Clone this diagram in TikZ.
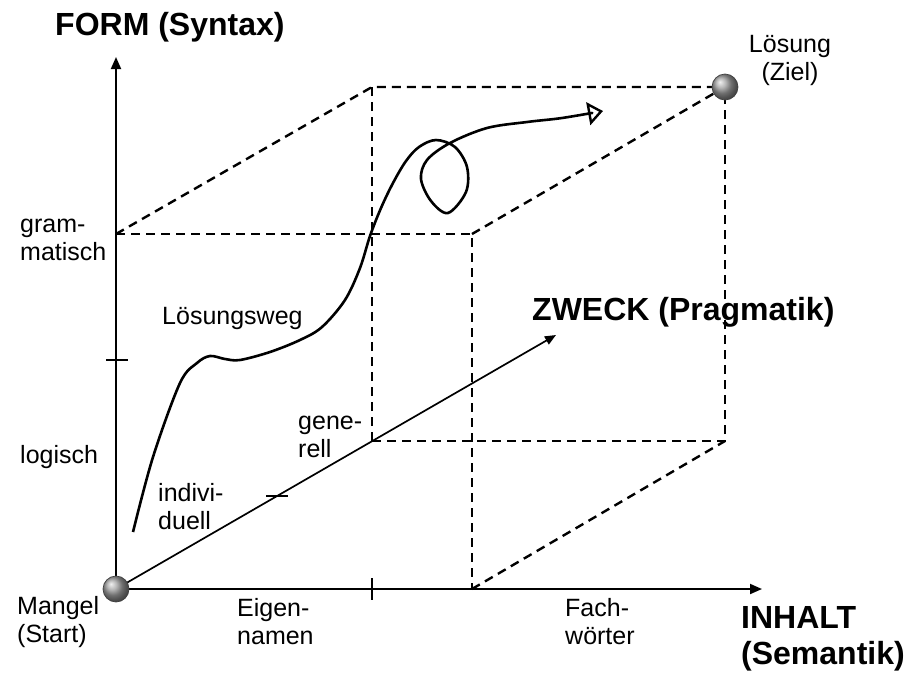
\documentclass[tikz,border=0pt]{standalone}
\usepackage{fontspec}
\setmainfont{Liberation Sans}
\usetikzlibrary{arrows.meta,shadings}
\begin{document}
\begin{tikzpicture}[x=1pt,y=-1pt,
  axis/.style={line width=1.9pt,-{Triangle[length=12pt,width=10pt]}},
  hidden/.style={line width=2.4pt,dash pattern=on 9pt off 6pt},
  tickmark/.style={line width=1.9pt},
  path/.style={line width=2.6pt,line join=round,-{Triangle[open,length=15pt,width=23pt,line width=2.4pt]}},
  ballnode/.style={circle,minimum size=26pt,inner sep=0pt,shading=ball,ball color=gray!75,draw=black!75,line width=0.7pt},
  lbl/.style={inner sep=0pt,font=\fontsize{25}{28}\selectfont,align=left},
  title/.style={inner sep=0pt,font=\fontsize{32}{36}\selectfont\bfseries,align=left}]
\useasboundingbox (0,0) rectangle (906,675);

% cube corners
\coordinate (O) at (116,589);
\coordinate (A) at (116,234);
\coordinate (B) at (472,234);
\coordinate (C) at (472,589);
\coordinate (D) at (372,441);
\coordinate (E) at (725,441);
\coordinate (F) at (372,87);
\coordinate (G) at (725,87);

% axis ends
\coordinate (yend) at (116,57);
\coordinate (xend) at (762,589);
\coordinate (zend) at (556,335);

% hidden edges of the cube
\draw[hidden] (A) -- (B) -- (C);
\draw[hidden] (A) -- (F) -- (G);
\draw[hidden] (B) -- (G);
\draw[hidden] (C) -- (E);
\draw[hidden] (D) -- (E) -- (G);
\draw[hidden] (D) -- (F);

% axes
\draw[axis] (O) -- (yend);
\draw[axis] (O) -- (xend);
\draw[line width=1.7pt,-{Triangle[length=11pt,width=9pt]}] (O) -- (zend);

% ticks
\coordinate (ty1) at (106,360); \coordinate (ty2) at (128,360);
\coordinate (tx1) at (372,578); \coordinate (tx2) at (372,600);
\coordinate (tz1) at (266,496); \coordinate (tz2) at (288,496);
\draw[tickmark] (ty1) -- (ty2);
\draw[tickmark] (tx1) -- (tx2);
\draw[tickmark] (tz1) -- (tz2);

% solution path
\draw[path] plot[smooth,tension=0.55] coordinates {
  (133,532) (153,457) (180,383) (197,363) (210,356) (225,359) (240,360)
  (270,352) (300,340) (322,327) (345,300) (360,268) (370,236) (381,208)
  (393,183) (406,161) (419,147) (436,140) (455,147) (467,167) (466,192)
  (448,213) (431,201) (421,179) (427,160) (450,143) (487,128) (527,122)
  (562,118) (603,111)};

% start and goal
\node[ballnode] (start) at (O) {};
\node[ballnode] (goal) at (G) {};

% labels
\node[title,anchor=west] (form) at (55,27) {FORM (Syntax)};
\node[title,anchor=west] (zweck) at (532,312) {ZWECK (Pragmatik)};
\node[title,anchor=west] (inhalt) at (741,639) {INHALT\\(Semantik)};

\node[lbl,anchor=west] (gram) at (20,240) {gram-\\matisch};
\node[lbl,anchor=west] (logisch) at (20,457) {logisch};
\node[lbl,anchor=west] (mangel) at (17,622) {Mangel\\(Start)};
\node[lbl,anchor=west] (eigen) at (237,622) {Eigen-\\namen};
\node[lbl,anchor=west] (fach) at (565,622) {Fach-\\wörter};
\node[lbl,align=center] (loesung) at (790,60) {Lösung\\(Ziel)};
\node[lbl,anchor=west] (weg) at (162,318) {Lösungsweg};
\node[lbl,anchor=west] (generell) at (298,437) {gene-\\rell};
\node[lbl,anchor=west] (indiv) at (158,507) {indivi-\\duell};
\end{tikzpicture}
\end{document}
